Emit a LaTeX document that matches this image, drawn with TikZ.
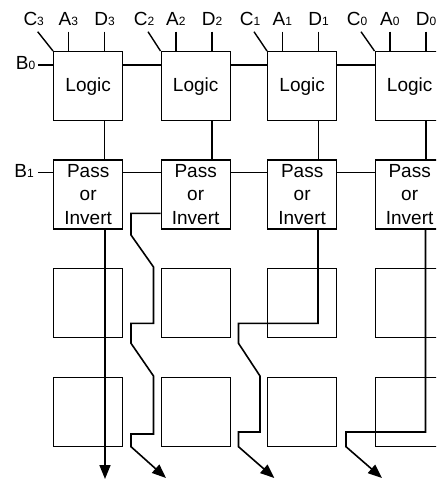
\documentclass[tikz,border=0pt]{standalone}
\usepackage{fontspec}
\setmainfont{Liberation Sans}
\usetikzlibrary{arrows.meta,calc}
\newcommand{\subdig}[1]{{\fontsize{12}{12}\selectfont #1}}
\begin{document}
\begin{tikzpicture}[x=1pt,y=-1pt,
  cell/.style={draw, line width=1.3pt, minimum width=69pt, minimum height=69pt, inner sep=0pt, anchor=north west, align=center, font=\fontsize{19}{23.5}\selectfont},
  lab/.style={inner sep=0pt, anchor=base, font=\fontsize{19}{19}\selectfont},
  wire/.style={line width=1.4pt},
  flow/.style={line width=1.6pt, -{Triangle[length=14pt,width=11pt]}}]
\useasboundingbox (0,0) rectangle (436,481);
\clip (0,0) rectangle (436,481);
% boxes
\foreach \c/\x in {3/53,2/160.5,1/267,0/374.5}{
  \node[cell] (L\c) at (\x,51) {Logic};
  \node[cell] (P\c) at (\x,159.3) {Pass\\or\\Invert};
  \node[cell] (E\c) at (\x,267.7) {};
  \node[cell] (F\c) at (\x,376.7) {};
}
% top labels
\foreach \c/\x/\cx in {3/53/33.7,2/160.5/144,1/267/250,0/374.5/357}{
  \node[lab] (C\c) at (\cx,26) {C\subdig{\c}};
  \node[lab] (A\c) at (\x+15.3,26) {A\subdig{\c}};
  \node[lab] (D\c) at (\x+51.5,26) {D\subdig{\c}};
  \draw[wire] ([shift={(4pt,-5.7pt)}]C\c.base) -- (L\c.north west);
  \draw[wire] ([yshift=-5.7pt]A\c.base) -- (A\c.base |- L\c.north);
  \draw[wire] ([yshift=-5.7pt]D\c.base) -- (D\c.base |- L\c.north);
  \draw[wire] ([xshift=51.5pt]L\c.south west) -- ([xshift=51.5pt]P\c.north west);
}
% B inputs
\node[lab, anchor=base east] (B0) at (35.5,70) {B\subdig{0}};
\node[lab, anchor=base east] (B1) at (34,177.3) {B\subdig{1}};
\draw[wire] ([yshift=-14pt]L3.north west) -- ++(-15pt,0pt);
\draw[wire] ([yshift=-13pt]P3.north west) -- ++(-15pt,0pt);
% horizontal links
\foreach \a/\b in {3/2,2/1,1/0}{
  \draw[wire] ([yshift=-14pt]L\a.north east) -- ([yshift=-14pt]L\b.north west);
  \draw[wire] ([yshift=-13pt]P\a.north east) -- ([yshift=-13pt]P\b.north west);
}
% output paths
\draw[flow] ([xshift=52pt]P3.south west) -- (105,479);
\draw[flow] ([yshift=-54pt]P2.north west) -- (131,213.3) -- (131,235) -- (153.5,267)
  -- (153.5,323.3) -- (131,323.3) -- (131,343.3) -- (153.5,376) -- (153.5,434)
  -- (131,434) -- (131,446.7) -- (166,478);
\draw[flow] ([xshift=51pt]P1.south west) -- (318,323.3) -- (238.5,323.3) -- (238.5,343.3)
  -- (260,376) -- (260,432) -- (238.5,432) -- (238.5,446.7) -- (274.3,478);
\draw[flow] ([xshift=51pt]P0.south west) -- (425.5,432) -- (346,432) -- (346,446.7) -- (382,478);
\end{tikzpicture}
\end{document}
